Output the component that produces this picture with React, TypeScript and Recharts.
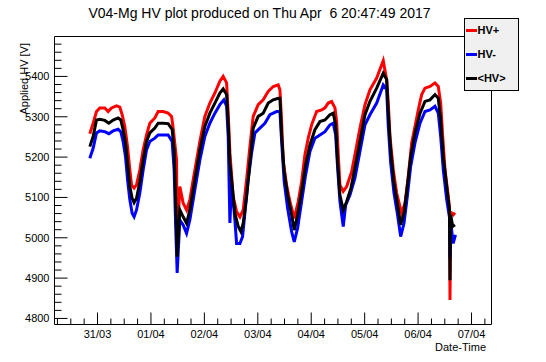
import React from 'react';
import { LineChart, Line, XAxis, YAxis, Legend, ReferenceArea } from 'recharts';

const FONT = '"Liberation Sans", Arial, Helvetica, sans-serif';

// Axis ranges (days since 31/03 00:00, volts)
const X_DOMAIN: [number, number] = [-0.805, 7.374];
const Y_DOMAIN: [number, number] = [4785, 5499];

// Tick labels
const dayTicks = [0, 1, 2, 3, 4, 5, 6, 7];
const dayLabels = ['31/03', '01/04', '02/04', '03/04', '04/04', '05/04', '06/04', '07/04'];
const xAllTicks = [
  -0.75, -0.5, -0.25, 0, 0.25, 0.5, 0.75, 1, 1.25, 1.5, 1.75, 2, 2.25, 2.5, 2.75, 3, 3.25,
  3.5, 3.75, 4, 4.25, 4.5, 4.75, 5, 5.25, 5.5, 5.75, 6, 6.25, 6.5, 6.75, 7, 7.25,
];
const voltLabels = [4800, 4900, 5000, 5100, 5200, 5300, 5400];
const yAllTicks = [
  4800, 4820, 4840, 4860, 4880, 4900, 4920, 4940, 4960, 4980, 5000, 5020, 5040, 5060, 5080,
  5100, 5120, 5140, 5160, 5180, 5200, 5220, 5240, 5260, 5280, 5300, 5320, 5340, 5360, 5380,
  5400, 5420, 5440, 5460, 5480,
];
const legendOrder = ['HV+', 'HV-', '<HV>'];

// HV+ (red)
const hvPlusTime = [
  -0.144, -0.082, -0.019, 0.043, 0.137, 0.199, 0.262, 0.356, 0.418, 0.461,
  0.511, 0.562, 0.605, 0.637, 0.685, 0.73, 0.792, 0.854, 0.918, 0.979,
  1.073, 1.135, 1.228, 1.322, 1.386, 1.416, 1.479, 1.491, 1.541, 1.603,
  1.667, 1.728, 1.822, 1.916, 2.009, 2.103, 2.197, 2.29, 2.352, 2.416,
  2.446, 2.478, 2.539, 2.603, 2.665, 2.727, 2.79, 2.852, 2.914, 3.007,
  3.101, 3.195, 3.288, 3.382, 3.414, 3.446, 3.476, 3.539, 3.601, 3.682,
  3.757, 3.82, 3.882, 3.944, 4.007, 4.101, 4.195, 4.257, 4.318, 4.382,
  4.444, 4.476, 4.506, 4.537, 4.599, 4.663, 4.757, 4.818, 4.912, 5.006,
  5.099, 5.225, 5.348, 5.412, 5.442, 5.474, 5.536, 5.599, 5.661, 5.693,
  5.755, 5.816, 5.88, 5.942, 6.004, 6.067, 6.129, 6.223, 6.316, 6.378,
  6.423, 6.461, 6.504, 6.566, 6.588, 6.597, 6.61, 6.659, 6.691,
];
const hvPlusVolts = [
  5258, 5284, 5313, 5322, 5322, 5313, 5322, 5327, 5324, 5305,
  5276, 5226, 5168, 5131, 5123, 5131, 5168, 5218, 5255, 5284,
  5297, 5313, 5313, 5309, 5301, 5272, 5193, 4995, 5127, 5086,
  5069, 5094, 5168, 5239, 5301, 5334, 5359, 5388, 5400, 5384,
  5310, 5211, 5102, 5065, 5052, 5069, 5144, 5226, 5301, 5330,
  5342, 5363, 5375, 5379, 5367, 5288, 5189, 5131, 5090, 5048,
  5090, 5139, 5206, 5247, 5280, 5313, 5317, 5322, 5334, 5338,
  5322, 5288, 5206, 5131, 5115, 5127, 5164, 5206, 5272, 5330,
  5367, 5396, 5439, 5392, 5335, 5251, 5168, 5111, 5077, 5061,
  5086, 5152, 5235, 5276, 5317, 5355, 5371, 5375, 5384, 5375,
  5334, 5251, 5168, 5102, 5074, 4846, 5064, 5057, 5062,
];

// HV- (blue)
const hvMinusTime = [
  -0.144, -0.082, -0.019, 0.043, 0.137, 0.212, 0.292, 0.386, 0.436, 0.479,
  0.524, 0.562, 0.605, 0.648, 0.685, 0.73, 0.792, 0.854, 0.918, 0.979,
  1.073, 1.135, 1.228, 1.322, 1.397, 1.434, 1.461, 1.491, 1.541, 1.603,
  1.667, 1.728, 1.822, 1.916, 2.009, 2.103, 2.197, 2.29, 2.365, 2.416,
  2.446, 2.478, 2.509, 2.571, 2.603, 2.665, 2.715, 2.758, 2.82, 2.884,
  2.946, 3.039, 3.133, 3.227, 3.352, 3.414, 3.446, 3.494, 3.558, 3.633,
  3.682, 3.745, 3.82, 3.895, 3.976, 4.069, 4.163, 4.257, 4.35, 4.412,
  4.457, 4.494, 4.537, 4.599, 4.644, 4.725, 4.818, 4.912, 5.006, 5.099,
  5.225, 5.348, 5.412, 5.442, 5.487, 5.549, 5.611, 5.674, 5.736, 5.798,
  5.861, 5.942, 6.036, 6.129, 6.223, 6.316, 6.378, 6.423, 6.472, 6.536,
  6.588, 6.597, 6.61, 6.657, 6.7,
];
const hvMinusVolts = [
  5197, 5222, 5260, 5265, 5263, 5258, 5265, 5269, 5263, 5239,
  5201, 5144, 5094, 5061, 5052, 5069, 5111, 5168, 5218, 5239,
  5247, 5255, 5255, 5255, 5239, 5168, 5037, 4913, 5044, 5032,
  5011, 5044, 5119, 5193, 5251, 5284, 5309, 5330, 5342, 5326,
  5251, 5037, 5136, 5044, 4986, 4986, 5003, 5061, 5144, 5210,
  5260, 5272, 5284, 5305, 5313, 5313, 5239, 5139, 5073, 5015,
  4990, 5024, 5090, 5156, 5214, 5247, 5255, 5263, 5280, 5284,
  5255, 5173, 5090, 5028, 5081, 5106, 5148, 5214, 5280, 5305,
  5334, 5379, 5367, 5276, 5185, 5111, 5061, 5003, 5036, 5102,
  5177, 5235, 5284, 5313, 5317, 5326, 5309, 5251, 5168, 5094,
  5050, 4950, 5040, 4986, 5007,
];

// <HV> (black)
const hvMeanTime = [
  -0.144, -0.082, -0.019, 0.043, 0.137, 0.212, 0.292, 0.386, 0.436, 0.479,
  0.524, 0.562, 0.605, 0.648, 0.685, 0.73, 0.792, 0.854, 0.918, 0.979,
  1.073, 1.135, 1.228, 1.322, 1.397, 1.434, 1.461, 1.491, 1.541, 1.603,
  1.667, 1.728, 1.822, 1.916, 2.009, 2.103, 2.197, 2.29, 2.352, 2.416,
  2.446, 2.478, 2.509, 2.571, 2.633, 2.684, 2.727, 2.79, 2.852, 2.914,
  3.007, 3.101, 3.195, 3.288, 3.382, 3.414, 3.446, 3.494, 3.558, 3.633,
  3.682, 3.745, 3.82, 3.895, 3.976, 4.069, 4.163, 4.257, 4.35, 4.412,
  4.457, 4.494, 4.537, 4.599, 4.663, 4.743, 4.818, 4.912, 5.006, 5.099,
  5.225, 5.348, 5.412, 5.442, 5.487, 5.549, 5.611, 5.674, 5.736, 5.798,
  5.861, 5.942, 6.036, 6.129, 6.223, 6.316, 6.378, 6.423, 6.472, 6.536,
  6.588, 6.597, 6.61, 6.648, 6.691,
];
const hvMeanVolts = [
  5226, 5251, 5292, 5294, 5291, 5284, 5292, 5297, 5292, 5268,
  5235, 5185, 5127, 5098, 5087, 5098, 5139, 5193, 5239, 5260,
  5272, 5284, 5284, 5283, 5269, 5218, 5102, 4953, 5069, 5052,
  5036, 5069, 5144, 5218, 5276, 5309, 5334, 5359, 5369, 5355,
  5284, 5185, 5144, 5061, 5028, 5015, 5036, 5102, 5185, 5272,
  5301, 5309, 5334, 5342, 5346, 5346, 5255, 5164, 5106, 5057,
  5019, 5057, 5115, 5181, 5230, 5268, 5288, 5292, 5305, 5309,
  5280, 5189, 5106, 5069, 5090, 5123, 5173, 5239, 5305, 5338,
  5371, 5408, 5392, 5309, 5218, 5135, 5086, 5032, 5061, 5127,
  5201, 5260, 5309, 5338, 5342, 5355, 5346, 5292, 5201, 5127,
  5069, 4895, 5057, 5028, 5032,
];

const zip = (t: number[], v: number[]) => t.map((x, i) => ({ t: x, v: v[i] }));
const hvPlusData = zip(hvPlusTime, hvPlusVolts);
const hvMinusData = zip(hvMinusTime, hvMinusVolts);
const hvMeanData = zip(hvMeanTime, hvMeanVolts);

const XTick = (props: any) => {
  const { x, y, payload } = props;
  const idx = dayTicks.indexOf(payload.value);
  const major = idx >= 0;
  return (
    <g>
      <line x1={x} x2={x} y1={y} y2={y - (major ? 12 : 6)} stroke="#000" strokeWidth={1} />
      {major && (
        <text x={x} y={y + 13.5} textAnchor="middle" fontSize={11} fontFamily={FONT} fill="#000">
          {dayLabels[idx]}
        </text>
      )}
    </g>
  );
};

const YTick = (props: any) => {
  const { x, y, payload } = props;
  const major = voltLabels.indexOf(payload.value) >= 0;
  return (
    <g>
      <line x1={x} x2={x + (major ? 13 : 7)} y1={y} y2={y} stroke="#000" strokeWidth={1} />
      {major && (
        <text x={x - 5} y={y + 4} textAnchor="end" fontSize={11} fontFamily={FONT} fill="#000">
          {payload.value}
        </text>
      )}
    </g>
  );
};

const renderLegend = (props: any) => {
  const payload = [...(props.payload || [])].sort(
    (a: any, b: any) => legendOrder.indexOf(a.value) - legendOrder.indexOf(b.value)
  );
  return (
    <div
      style={{
        position: 'relative',
        width: 55,
        height: 73,
        boxSizing: 'border-box',
        border: '1px solid #000',
        background: '#f0f0f0',
        fontFamily: FONT,
      }}
    >
      {payload.map((p: any, i: number) => (
        <React.Fragment key={i}>
          <div
            style={{
              position: 'absolute',
              left: 1,
              top: 9.5 + 24 * i,
              width: 11,
              height: 3,
              background: p.color,
            }}
          />
          <span
            style={{
              position: 'absolute',
              left: 12.5,
              top: 6 + 24 * i,
              fontSize: 11,
              lineHeight: '11px',
              fontWeight: 'bold',
              color: '#000',
              whiteSpace: 'pre',
            }}
          >
            {p.value}
          </span>
        </React.Fragment>
      ))}
    </div>
  );
};

export default function App() {
  return (
    <div style={{ position: 'absolute', left: 0, top: 0, width: 546, height: 362, background: '#fff' }}>
      <div
        style={{
          position: 'absolute',
          left: 0,
          top: 6,
          width: 519,
          textAlign: 'center',
          fontFamily: FONT,
          fontSize: 14,
          lineHeight: '14px',
          whiteSpace: 'pre',
          color: '#000',
          zIndex: 2,
        }}
      >
        {'V04-Mg HV plot produced on Thu Apr  6 20:47:49 2017'}
      </div>
      <LineChart
        width={546}
        height={362}
        margin={{ top: 36.5, right: 54.5, bottom: 36.5, left: 53.5 }}
      >
        <XAxis
          type="number"
          dataKey="t"
          domain={X_DOMAIN}
          allowDataOverflow
          ticks={xAllTicks}
          interval={0}
          tick={XTick}
          tickSize={0}
          tickMargin={0}
          tickLine={false}
          axisLine={false}
          height={1}
          label={{
            content: (p: any) => {
              const vb = p.viewBox || { x: 54.5, y: 324.5, width: 437 };
              return (
                <text
                  x={vb.x + vb.width - 5.5}
                  y={vb.y + 26.5}
                  textAnchor="end"
                  fontSize={11}
                  fontFamily={FONT}
                  fill="#000"
                >
                  Date-Time
                </text>
              );
            },
          }}
        />
        <YAxis
          type="number"
          dataKey="v"
          domain={Y_DOMAIN}
          allowDataOverflow
          ticks={yAllTicks}
          interval={0}
          tick={YTick}
          tickSize={0}
          tickMargin={0}
          tickLine={false}
          axisLine={false}
          width={1}
          label={{
            content: (p: any) => {
              const vb = p.viewBox || { x: 53.5, y: 36.5, width: 1 };
              const tx = vb.x + (vb.width || 0) - 26.5;
              const ty = vb.y + 6.5;
              return (
                <text
                  x={tx}
                  y={ty}
                  transform={`rotate(-90, ${tx}, ${ty})`}
                  textAnchor="end"
                  fontSize={11}
                  fontFamily={FONT}
                  fill="#000"
                >
                  Applied HV [V]
                </text>
              );
            },
          }}
        />
        <ReferenceArea
          x1={X_DOMAIN[0]}
          x2={X_DOMAIN[1]}
          y1={Y_DOMAIN[0]}
          y2={Y_DOMAIN[1]}
          fill="none"
          fillOpacity={0}
          stroke="#000"
          strokeWidth={1}
          ifOverflow="visible"
        />
        <Line
          data={hvPlusData}
          dataKey="v"
          name="HV+"
          stroke="#ff0000"
          strokeWidth={3}
          dot={false}
          activeDot={false}
          isAnimationActive={false}
          type="linear"
        />
        <Line
          data={hvMinusData}
          dataKey="v"
          name="HV-"
          stroke="#0000ff"
          strokeWidth={3}
          dot={false}
          activeDot={false}
          isAnimationActive={false}
          type="linear"
        />
        <Line
          data={hvMeanData}
          dataKey="v"
          name="<HV>"
          stroke="#000000"
          strokeWidth={3}
          dot={false}
          activeDot={false}
          isAnimationActive={false}
          type="linear"
        />
        <Legend
          layout="vertical"
          align="center"
          verticalAlign="middle"
          content={renderLegend}
          wrapperStyle={{ left: 464, top: 18, width: 55, height: 73, right: 'auto', bottom: 'auto' }}
        />
      </LineChart>
    </div>
  );
}
